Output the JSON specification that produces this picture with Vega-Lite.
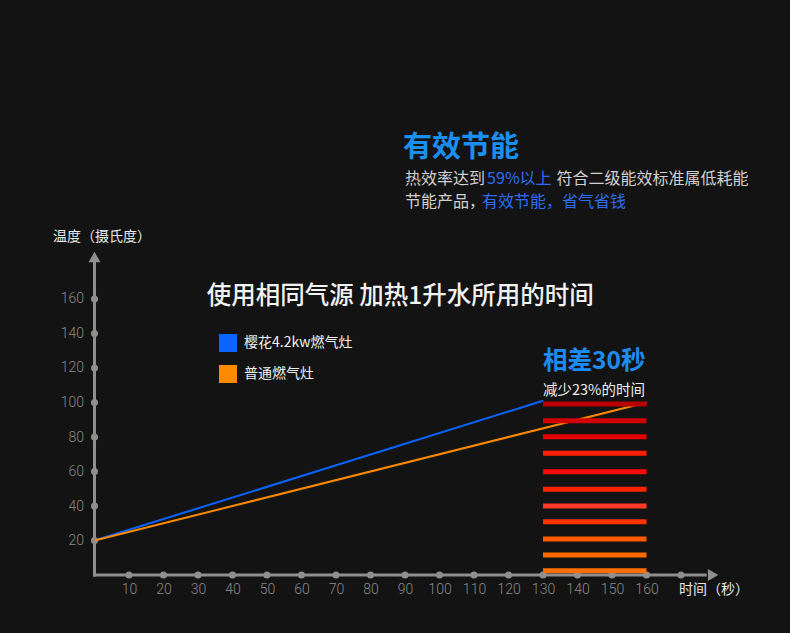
{
  "$schema": "https://vega.github.io/schema/vega-lite/v6.json",
  "width": 790,
  "height": 633,
  "autosize": {"type": "none"},
  "padding": 0,
  "background": "#131313",
  "config": {"view": {"stroke": null}, "font": "Noto Sans CJK SC"},
  "data": {"values": [{"note": "annotation"}]},
  "datasets": {
    "ticks": [
      {"t": 10, "temp": 0}, {"t": 20, "temp": 0}, {"t": 30, "temp": 0}, {"t": 40, "temp": 0},
      {"t": 50, "temp": 0}, {"t": 60, "temp": 0}, {"t": 70, "temp": 0}, {"t": 80, "temp": 0},
      {"t": 90, "temp": 0}, {"t": 100, "temp": 0}, {"t": 110, "temp": 0}, {"t": 120, "temp": 0},
      {"t": 130, "temp": 0}, {"t": 140, "temp": 0}, {"t": 150, "temp": 0}, {"t": 160, "temp": 0},
      {"t": 170, "temp": 0},
      {"t": 0, "temp": 20}, {"t": 0, "temp": 40}, {"t": 0, "temp": 60}, {"t": 0, "temp": 80},
      {"t": 0, "temp": 100}, {"t": 0, "temp": 120}, {"t": 0, "temp": 140}, {"t": 0, "temp": 160}
    ],
    "series": [
      {"stove": "樱花4.2kw燃气灶", "t": 0, "temp": 20},
      {"stove": "樱花4.2kw燃气灶", "t": 130, "temp": 101},
      {"stove": "普通燃气灶", "t": 0, "temp": 20},
      {"stove": "普通燃气灶", "t": 160, "temp": 100}
    ],
    "stripes": [
      {"band": 1, "temp": 99.1}, {"band": 2, "temp": 89.4}, {"band": 3, "temp": 80.2},
      {"band": 4, "temp": 70.6}, {"band": 5, "temp": 59.9}, {"band": 6, "temp": 49.7},
      {"band": 7, "temp": 40.0}, {"band": 8, "temp": 30.9}, {"band": 9, "temp": 20.9},
      {"band": 10, "temp": 11.6}, {"band": 11, "temp": 2.5}
    ]
  },
  "layer": [
    {
      "mark": {"type": "rule", "color": "#8f8f8f", "strokeWidth": 3, "strokeCap": "square"},
      "encoding": {
        "x": {"datum": 0, "type": "quantitative"},
        "x2": {"datum": 177},
        "y": {"datum": 0, "type": "quantitative"}
      }
    },
    {
      "mark": {"type": "rule", "color": "#8f8f8f", "strokeWidth": 3, "strokeCap": "square"},
      "encoding": {
        "x": {"datum": 0, "type": "quantitative"},
        "y": {"datum": 0, "type": "quantitative"},
        "y2": {"datum": 183}
      }
    },
    {
      "data": {"name": "ticks"},
      "mark": {"type": "point", "filled": true, "size": 50, "color": "#8f8f8f", "opacity": 1},
      "encoding": {
        "x": {
          "field": "t", "type": "quantitative",
          "scale": {"domain": [-27.39, 201.59], "nice": false, "zero": false},
          "axis": {
            "values": [10, 20, 30, 40, 50, 60, 70, 80, 90, 100, 110, 120, 130, 140, 150, 160],
            "domain": false, "ticks": false, "tickSize": 0, "grid": false,
            "offset": -58, "labelPadding": 7, "labelColor": "#8a8a8a",
            "labelFont": "Roboto", "labelFontWeight": 300, "labelFontSize": 14,
            "labelOverlap": false, "labelFlush": false, "title": null
          }
        },
        "y": {
          "field": "temp", "type": "quantitative",
          "scale": {"domain": [-33.6, 333.3], "nice": false, "zero": false},
          "axis": {
            "values": [20, 40, 60, 80, 100, 120, 140, 160],
            "domain": false, "ticks": false, "tickSize": 0, "grid": false,
            "offset": -94.5, "labelPadding": 11, "labelColor": "#8a8a8a",
            "labelFont": "Roboto", "labelFontWeight": 300, "labelFontSize": 14,
            "labelOverlap": false, "labelFlush": false, "title": null
          }
        }
      }
    },
    {
      "data": {"name": "series"},
      "mark": {"type": "line", "strokeWidth": 2},
      "encoding": {
        "x": {"field": "t", "type": "quantitative"},
        "y": {"field": "temp", "type": "quantitative"},
        "color": {
          "field": "stove", "type": "nominal",
          "scale": {"domain": ["樱花4.2kw燃气灶", "普通燃气灶"], "range": ["#0a64ff", "#ff8a00"]},
          "legend": {
            "orient": "none", "legendX": 219, "legendY": 334, "title": null,
            "symbolType": "square", "symbolSize": 324, "symbolStrokeWidth": 0,
            "labelFontSize": 14, "labelColor": "#f0f0f0", "labelFont": "Noto Sans CJK SC",
            "rowPadding": 13, "labelOffset": 7, "padding": 0,
            "encode": {
              "symbols": {
                "update": {
                  "fill": {"scale": "color", "field": "value"},
                  "fillOpacity": {"value": 1},
                  "strokeWidth": {"value": 0}
                }
              }
            }
          }
        }
      }
    },
    {
      "data": {"name": "stripes"},
      "mark": {"type": "rule", "strokeWidth": 5, "strokeCap": "butt"},
      "encoding": {
        "x": {"datum": 130, "type": "quantitative"},
        "x2": {"datum": 160},
        "y": {"field": "temp", "type": "quantitative"},
        "stroke": {
          "field": "band", "type": "ordinal",
          "scale": {
            "domain": [1, 2, 3, 4, 5, 6, 7, 8, 9, 10, 11],
            "range": ["#bb0000", "#d20000", "#e60000", "#ff1e00", "#fc0a0a", "#ff2200", "#ff3a2a", "#ff3300", "#ff5a00", "#ff6a00", "#ff7000"]
          },
          "legend": null
        }
      }
    },
    {
      "mark": {"type": "point", "shape": "triangle-up", "filled": true, "size": 144, "color": "#8f8f8f", "opacity": 1},
      "encoding": {
        "x": {"datum": 0, "type": "quantitative"},
        "y": {"datum": 184.3, "type": "quantitative"}
      }
    },
    {
      "mark": {"type": "point", "shape": "triangle-right", "filled": true, "size": 144, "color": "#8f8f8f", "opacity": 1},
      "encoding": {
        "x": {"datum": 179.3, "type": "quantitative"},
        "y": {"datum": 0, "type": "quantitative"}
      }
    },
    {
      "mark": {"type": "text", "align": "left", "baseline": "middle", "fontSize": 14, "color": "#e8e8e8"},
      "encoding": {
        "x": {"datum": -12.0, "type": "quantitative"},
        "y": {"datum": 196, "type": "quantitative"},
        "text": {"value": "温度（摄氏度）"}
      }
    },
    {
      "mark": {"type": "text", "align": "left", "baseline": "middle", "fontSize": 14, "color": "#e8e8e8"},
      "encoding": {
        "x": {"datum": 169.4, "type": "quantitative"},
        "y": {"datum": -8.7, "type": "quantitative"},
        "text": {"value": "时间（秒）"}
      }
    },
    {
      "mark": {"type": "text", "align": "center", "baseline": "middle", "fontSize": 24.5, "fontWeight": 500, "color": "#f2f2f2"},
      "encoding": {
        "x": {"datum": 88.6, "type": "quantitative"},
        "y": {"datum": 161.2, "type": "quantitative"},
        "text": {"value": "使用相同气源 加热1升水所用的时间"}
      }
    },
    {
      "mark": {"type": "text", "align": "left", "baseline": "middle", "fontSize": 24.5, "fontWeight": "bold", "color": "#1e8cf5"},
      "encoding": {
        "x": {"datum": 130.0, "type": "quantitative"},
        "y": {"datum": 123.5, "type": "quantitative"},
        "text": {"value": "相差30秒"}
      }
    },
    {
      "mark": {"type": "text", "align": "left", "baseline": "middle", "fontSize": 14.5, "color": "#eeeeee"},
      "encoding": {
        "x": {"datum": 130.0, "type": "quantitative"},
        "y": {"datum": 106.4, "type": "quantitative"},
        "text": {"value": "减少23%的时间"}
      }
    },
    {
      "mark": {"type": "text", "align": "left", "baseline": "middle", "fontSize": 29, "fontWeight": "bold", "color": "#1b8ff0"},
      "encoding": {
        "x": {"datum": 89.4, "type": "quantitative"},
        "y": {"datum": 247.5, "type": "quantitative"},
        "text": {"value": "有效节能"}
      }
    },
    {
      "mark": {"type": "text", "align": "left", "baseline": "middle", "fontSize": 16, "color": "#d0d0d0"},
      "encoding": {
        "x": {"datum": 90.0, "type": "quantitative"},
        "y": {"datum": 229.3, "type": "quantitative"},
        "text": {"value": "热效率达到"}
      }
    },
    {
      "mark": {"type": "text", "align": "left", "baseline": "middle", "fontSize": 16, "color": "#2f6df0"},
      "encoding": {
        "x": {"datum": 113.8, "type": "quantitative"},
        "y": {"datum": 229.3, "type": "quantitative"},
        "text": {"value": "59%以上"}
      }
    },
    {
      "mark": {"type": "text", "align": "left", "baseline": "middle", "fontSize": 16, "color": "#d0d0d0"},
      "encoding": {
        "x": {"datum": 133.9, "type": "quantitative"},
        "y": {"datum": 229.3, "type": "quantitative"},
        "text": {"value": "符合二级能效标准属低耗能"}
      }
    },
    {
      "mark": {"type": "text", "align": "left", "baseline": "middle", "fontSize": 16, "color": "#d0d0d0"},
      "encoding": {
        "x": {"datum": 90.0, "type": "quantitative"},
        "y": {"datum": 216.2, "type": "quantitative"},
        "text": {"value": "节能产品，"}
      }
    },
    {
      "mark": {"type": "text", "align": "left", "baseline": "middle", "fontSize": 16, "color": "#2f6df0"},
      "encoding": {
        "x": {"datum": 112.3, "type": "quantitative"},
        "y": {"datum": 216.2, "type": "quantitative"},
        "text": {"value": "有效节能，省气省钱"}
      }
    }
  ]
}
